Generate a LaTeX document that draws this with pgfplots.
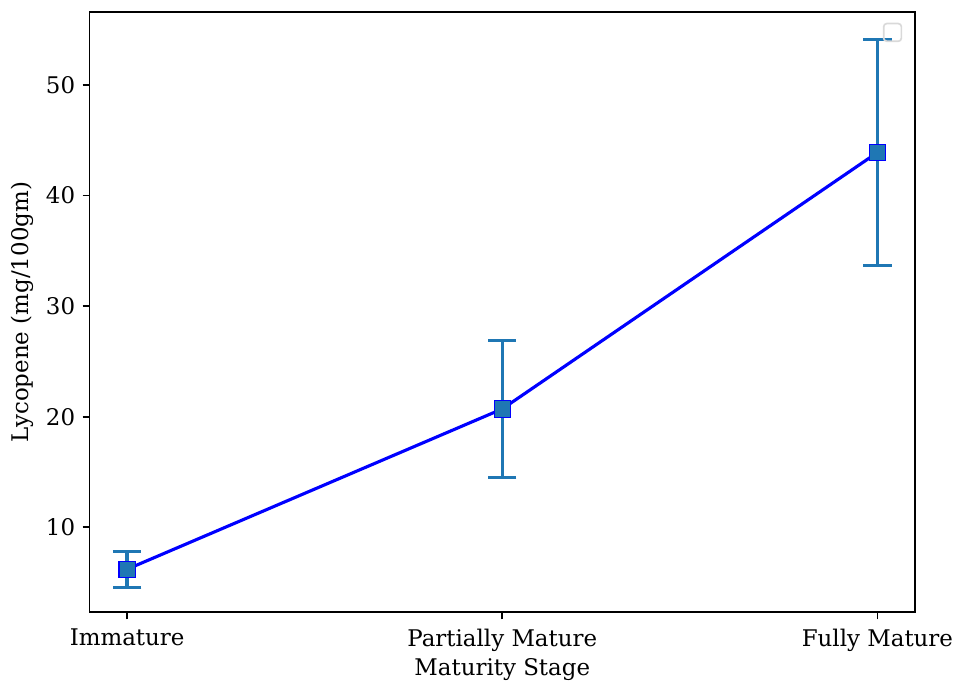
\documentclass[border=0pt]{standalone}
\usepackage{pgfplots}
\pgfplotsset{compat=1.18}
\usepackage{fontspec}
\setmainfont{DejaVu Serif}
\definecolor{tabblue}{RGB}{31,119,180}
\begin{document}
\begin{tikzpicture}
\path[use as bounding box] (-43pt,-33.6pt) rectangle (415.7pt,293.8pt);
\begin{axis}[
  at={(0,0)}, anchor=south west,
  scale only axis, width=396pt, height=288pt,
  xmin=-0.1, xmax=2.1, ymin=2.3, ymax=56.6,
  xtick={0,1,2},
  xticklabels={Immature, Partially Mature, Fully Mature},
  ytick={10,20,30,40,50},
  tick align=outside, major tick length=3.4pt,
  tick pos=left,
  axis line style={line width=0.8pt},
  every tick/.style={black, line width=0.8pt},
  xlabel={Maturity Stage},
  ylabel={Lycopene (mg/100gm)},
  /pgf/number format/assume math mode=true,
  tick label style={font=\fontsize{11}{13}\selectfont},
  label style={font=\fontsize{11}{13}\selectfont},
  xticklabel style={yshift=-1pt},
  xlabel style={yshift=3.5pt},
  ylabel style={yshift=-1pt},
]
% mean lycopene content at each stage
\addplot[blue, line width=1.5pt, mark=square*, mark size=3.9pt,
  mark options={fill=tabblue, draw=blue, line width=0.5pt}]
  coordinates {(0,6.2) (1,20.7) (2,43.9)};
% standard deviation bars
\addplot[draw=none, mark=none,
  error bars/.cd, y dir=both, y explicit,
  error bar style={tabblue, line width=1.6pt},
  error mark options={rotate=90, mark size=6.8pt, tabblue, line width=1.6pt}]
  coordinates {(0,6.2) +- (0,1.63) (1,20.7) +- (0,6.2) (2,43.9) +- (0,10.2)};
% empty legend frame
\draw[black!15, line width=0.8pt, rounded corners=1.5pt]
  ([xshift=-15pt, yshift=-14pt]rel axis cs:1,1) rectangle ([xshift=-6.5pt, yshift=-5.5pt]rel axis cs:1,1);
\end{axis}
\end{tikzpicture}
\end{document}
